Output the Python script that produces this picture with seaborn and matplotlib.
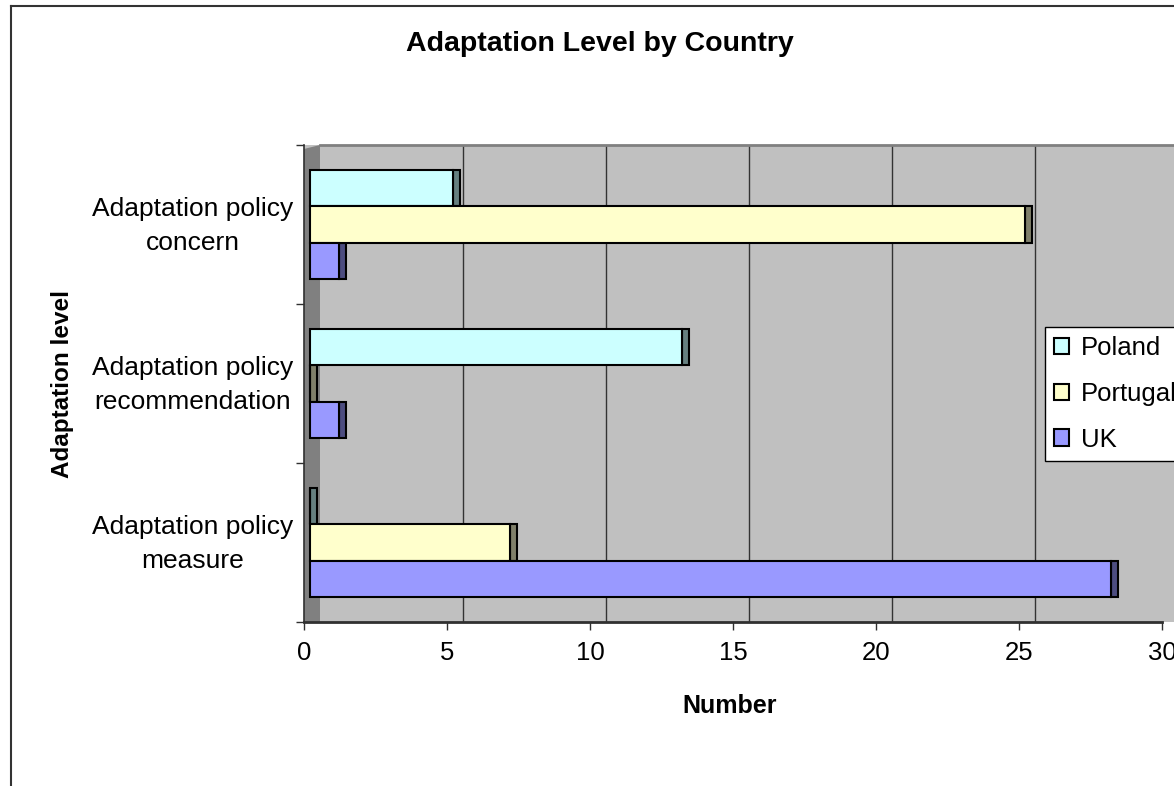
import pandas as pd
import matplotlib
matplotlib.use('Agg')
import matplotlib.pyplot as plt
import seaborn as sns
from matplotlib.patches import Rectangle, Patch, Polygon
from matplotlib.lines import Line2D
from matplotlib.transforms import offset_copy, ScaledTranslation

# data
levels = ['Adaptation policy\nconcern', 'Adaptation policy\nrecommendation', 'Adaptation policy\nmeasure']
countries = ['Poland', 'Portugal', 'UK']
poland = [5, 13, 0]
portugal = [25, 0, 7]
uk = [1, 1, 28]

face_colors = ['#ccffff', '#ffffcc', '#9999ff']
side_colors = ['#668080', '#80806a', '#4d4d80']

df = pd.DataFrame({
    'Level': levels * 3,
    'Country': [c for c in countries for _ in levels],
    'Number': poland + portugal + uk,
})

plt.rcParams['font.family'] = ['Liberation Sans', 'DejaVu Sans']

W, H = 1174, 786
fig = plt.figure(figsize=(W / 100, H / 100), dpi=100)
ax = fig.add_axes([304 / W, 1 - 622 / H, 858 / W, 477 / H])
ax.set_facecolor('#c0c0c0')

sns.barplot(data=df, x='Number', y='Level', hue='Country', orient='h',
            palette=face_colors, saturation=1, edgecolor='black', linewidth=1.5,
            width=0.68, errorbar=None, legend=False, ax=ax, zorder=3)

ax.set_xlim(0, 30)
ax.set_ylim(2.5, -0.5)

# fake 3D: bars sit a little forward, gridlines on the back wall
front = offset_copy(ax.transData, fig=fig, x=6, y=0, units='dots')
back = offset_copy(ax.transData, fig=fig, x=16, y=0, units='dots')

for cont, side in zip(ax.containers, side_colors):
    for bar in cont:
        bar.set_transform(front)
        ax.add_patch(Rectangle((bar.get_x() + bar.get_width(), bar.get_y()),
                               0.25, bar.get_height(), transform=front,
                               facecolor=side, edgecolor='black', lw=1.5, zorder=2.9))

ax.vlines(range(5, 31, 5), -0.5, 2.5, transform=back, colors='#333333', lw=1, zorder=1)

# left wall and the wall running past the figure edge
wall_w = 16 / 858
ax.add_patch(Polygon([(0, 0), (wall_w, 0), (wall_w, 1), (0, 1 - 4 / 477)],
                     closed=True, transform=ax.transAxes, facecolor='#808080',
                     edgecolor='none', zorder=0.5))
ax.add_patch(Rectangle((1, 0), 0.03, 1, transform=ax.transAxes, facecolor='#c0c0c0',
                       edgecolor='none', clip_on=False, zorder=0.5))
ax.plot([wall_w, 1.03], [1, 1], transform=ax.transAxes, color='#808080', lw=2,
        clip_on=False, zorder=1)

for s in ['top', 'right']:
    ax.spines[s].set_visible(False)
ax.spines['left'].set_color('#303030')
ax.spines['left'].set_linewidth(1.2)
ax.spines['bottom'].set_color('#303030')
ax.spines['bottom'].set_linewidth(2)

ax.set_xticks(range(0, 31, 5))
ax.set_yticks([0, 1, 2], labels=levels)
ax.set_yticks([-0.5, 0.5, 1.5, 2.5], minor=True)
ax.tick_params(axis='x', length=6, width=1, color='#303030', pad=7.5, labelsize=18.5)
ax.tick_params(axis='y', which='major', length=0, pad=7.5, labelsize=19)
ax.tick_params(axis='y', which='minor', length=6, width=1, color='#303030')
lift = ScaledTranslation(0, 6 / 100, fig.dpi_scale_trans)
for lbl in ax.get_yticklabels():
    lbl.set_multialignment('center')
    lbl.set_linespacing(1.5)
    lbl.set_transform(lbl.get_transform() + lift)
ax.set_xlabel('')
ax.set_ylabel('')

handles = [Patch(facecolor=c, edgecolor='black', lw=1.5) for c in face_colors]
leg = fig.legend(handles, countries, loc='upper left', bbox_to_anchor=(1045 / W, 1 - 327 / H),
                 fontsize=18.5, handlelength=0.6, handleheight=0.6, handletextpad=0.45,
                 labelspacing=0.85, borderpad=0.35, borderaxespad=0, fancybox=False,
                 edgecolor='black', framealpha=1)
leg.get_frame().set_linewidth(1)

fig.text(600 / W, 1 - 44 / H, 'Adaptation Level by Country', ha='center', va='center',
         fontsize=20.5, fontweight='bold')
fig.text(62 / W, 1 - 384 / H, 'Adaptation level', rotation=90, ha='center', va='center',
         fontsize=17.5, fontweight='bold')
fig.text(730 / W, 1 - 706 / H, 'Number', ha='center', va='center',
         fontsize=18, fontweight='bold')

# chart border (only left and top edges are in view)
fig.add_artist(Line2D([11 / W, 11 / W], [0, 1 - 6 / H], color='#333333', lw=1.5))
fig.add_artist(Line2D([11 / W, 1], [1 - 6 / H, 1 - 6 / H], color='#333333', lw=1.5))

plt.savefig('out.png', dpi=100)
